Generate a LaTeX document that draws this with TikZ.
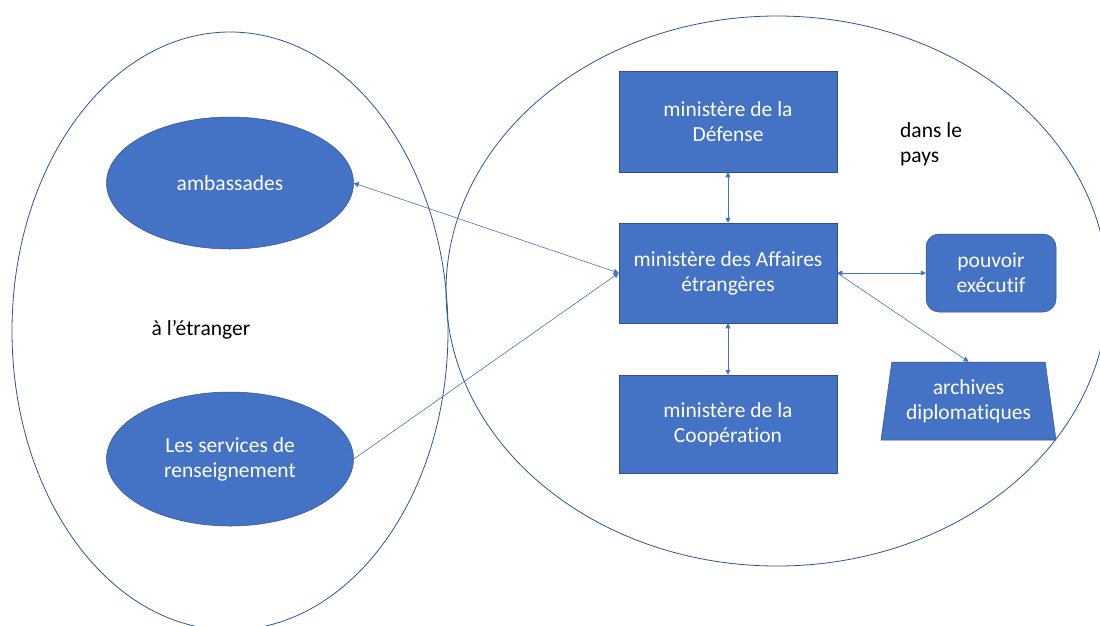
\documentclass[tikz,border=0pt]{standalone}
\usepackage{fontspec}
\setmainfont{Carlito}[Ligatures=NoCommon]
\usetikzlibrary{arrows.meta,shapes.geometric}
\definecolor{boxfill}{HTML}{4472C4}
\definecolor{boxline}{HTML}{2F528F}
\definecolor{ringline}{HTML}{2F5597}
\definecolor{connline}{HTML}{4472C4}
\tikzset{
  txt/.style={font=\fontsize{21.5}{25}\selectfont},
  ring/.style={draw=ringline,line width=0.8pt,ellipse,inner sep=0pt},
  blob/.style={ellipse,fill=boxfill,draw=boxline,line width=0.5pt,text=white,
    txt,align=center,inner sep=0pt},
  minbox/.style={rectangle,fill=boxfill,draw=boxline,line width=0.5pt,text=white,
    txt,align=center,minimum width=218pt,inner sep=0pt},
  roundbox/.style={rectangle,rounded corners=13pt,fill=boxfill,draw=boxline,line width=0.5pt,
    text=white,txt,align=center,inner sep=0pt},
  trap/.style={trapezium,trapezium left angle=76,trapezium right angle=76,trapezium stretches body,
    fill=boxfill,draw=boxline,line width=0.5pt,text=white,txt,
    align=center,inner sep=0pt},
  plain/.style={txt,align=left,inner sep=0pt,text=black},
  conn/.style={draw=connline,line width=0.6pt},
  tip/.tip={Triangle[width=5pt,length=5pt]}
}
\begin{document}
\begin{tikzpicture}[x=1pt,y=-1pt]
\useasboundingbox (0,0) rectangle (1100,625);
\fill[white] (0,0) rectangle (1100,625);
\begin{scope}
\clip (0,0) rectangle (1100,625);
\node[ring,minimum width=436pt,minimum height=598pt] (left) at (230,331) {};
\node[ring,minimum width=662pt,minimum height=550pt] (right) at (777,291) {};
\end{scope}
\node[blob,minimum width=247pt,minimum height=132pt] (amb) at (230,183) {ambassades};
\node[blob,minimum width=247pt,minimum height=134pt] (serv) at (230,459) {Les services de\\renseignement};
\node[plain,anchor=center] (etr) at (201,330) {à l’étranger};
\node[minbox,minimum height=101pt] (def) at (728,121.5) {ministère de la\\Défense};
\node[minbox,minimum height=100pt] (mae) at (728,273) {ministère des Affaires\\étrangères};
\node[minbox,minimum height=98pt] (coop) at (728,424) {ministère de la\\Coopération};
\node[roundbox,minimum width=130pt,minimum height=78pt] (pouv) at (991,273) {pouvoir\\exécutif};
\node[trap,minimum width=175pt,minimum height=78pt] (arch) at (968.5,401) {archives\\diplomatiques};
\node[plain,anchor=north west] (pays) at (900,122) {dans le\\pays};
\draw[conn,{tip}-{tip}] (mae.west) -- (amb.east);
\draw[conn,-{tip}] (serv.east) -- (mae.west);
\draw[conn,{tip}-{tip}] (def.south) -- (mae.north);
\draw[conn,{tip}-{tip}] (mae.south) -- (coop.north);
\draw[conn,{tip}-{tip}] (mae.east) -- (pouv.west);
\draw[conn,-{tip}] (mae.east) -- (arch.north);
\end{tikzpicture}
\end{document}
